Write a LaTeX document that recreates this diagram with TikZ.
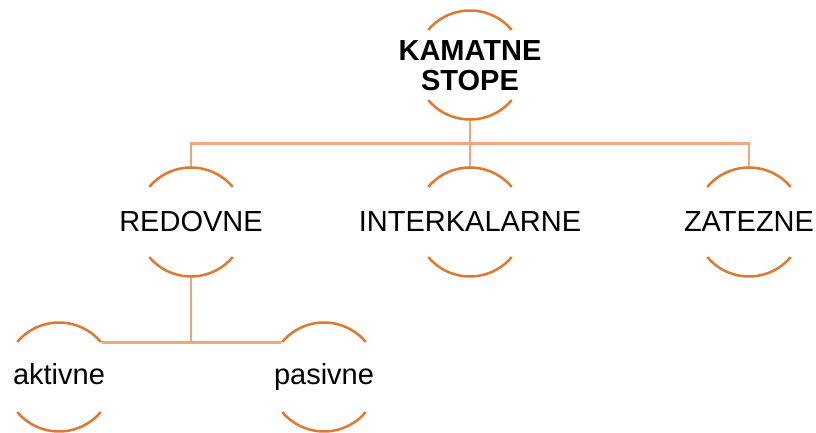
\documentclass[tikz,border=0pt]{standalone}
\usepackage{fontspec}
\setmainfont{Liberation Sans}
\usetikzlibrary{backgrounds}

\definecolor{ringorange}{RGB}{224,120,48}
\definecolor{linkorange}{RGB}{242,166,128}

\tikzset{
  ring/.style={circle, minimum size=109pt, inner sep=0pt, outer sep=0pt,
    fill=white, font=\fontsize{29}{30}\selectfont},
  ringarc/.style={ringorange, line width=2.5pt},
  link/.style={linkorange, line width=2.5pt}
}

\begin{document}
\begin{tikzpicture}[x=1pt,y=1pt]

        \useasboundingbox (0,0) rectangle (816,433);

        % Nodes
        \node[ring] (kamatne) at (470,368)
          {\makebox[0pt]{\raisebox{-11pt}[0pt][0pt]{\bfseries\begin{tabular}{@{}c@{}}KAMATNE\\STOPE\end{tabular}}}};
        \node[ring] (redovne) at (191,211) {\makebox[0pt]{REDOVNE}};
        \node[ring] (interkalarne) at (470,211) {\makebox[0pt]{INTERKALARNE}};
        \node[ring] (zatezne) at (749,211) {\makebox[0pt]{ZATEZNE}};
        \node[ring] (aktivne) at (59,56) {\makebox[0pt]{\vphantom{kp}aktivne}};
        \node[ring] (pasivne) at (324,56) {\makebox[0pt]{\vphantom{kp}pasivne}};

        % Arcs
        \foreach \n in {kamatne,redovne,interkalarne,zatezne,aktivne,pasivne} {
          \draw[ringarc] (\n.140) arc[start angle=140, end angle=40, radius=54.5pt];
          \draw[ringarc] (\n.220) arc[start angle=220, end angle=320, radius=54.5pt];
        }

        % Links
        \begin{pgfonlayer}{background}
          \draw[link] (kamatne.south) -- ++(0,-24) -| (redovne.north);
          \draw[link] (kamatne.south) -- (interkalarne.north);
          \draw[link] (kamatne.south) -- ++(0,-24) -| (zatezne.north);
          \draw[link] (redovne.south) -- ++(0,-66) -| (aktivne.north);
          \draw[link] (redovne.south) -- ++(0,-66) -| (pasivne.north);
        \end{pgfonlayer}

\end{tikzpicture}
\end{document}
